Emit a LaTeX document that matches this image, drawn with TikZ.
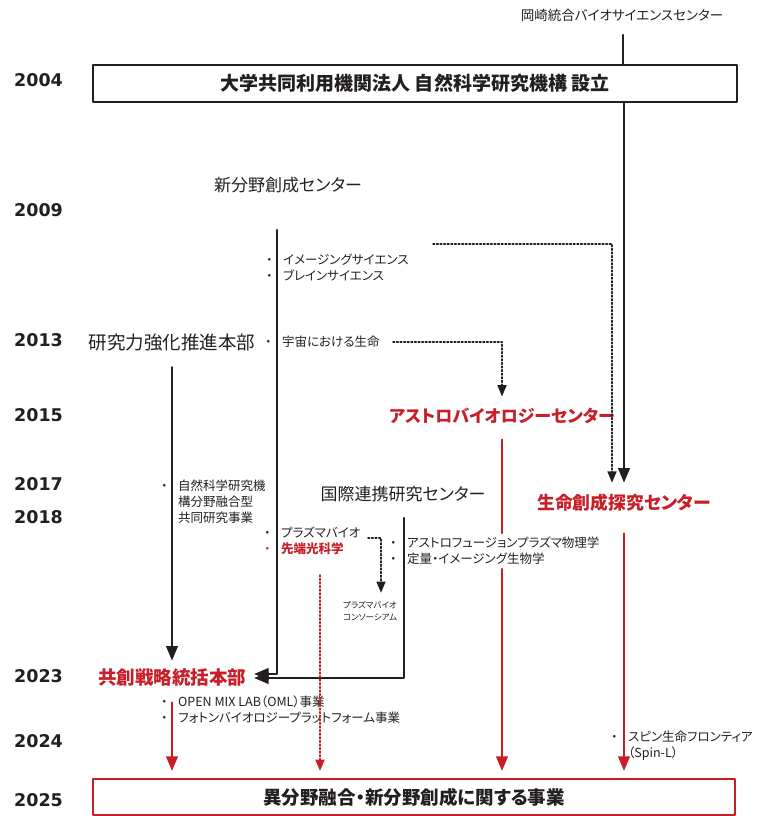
\documentclass[tikz,border=0pt]{standalone}
\usepackage{fontspec}
\newfontfamily\jpfont{Noto Sans CJK JP}[RawFeature={+palt}]
\newfontfamily\yearfont{DejaVu Sans}
\usetikzlibrary{arrows, calc, positioning}
\usepackage{xcolor}
\definecolor{ninsred}{RGB}{200,30,40}
\definecolor{ink}{RGB}{35,31,32}
\newcommand{\bul}{\makebox[17pt][l]{・}}
\newcommand{\nobul}{\hspace*{17pt}}

\begin{document}
\begin{tikzpicture}[line cap=round,line join=round,>=triangle 45,x=1pt,y=-1pt,
  yearlabel/.style={anchor=west, inner sep=0pt, text=ink, font=\yearfont\bfseries\fontsize{17.5}{18}\selectfont},
  unitlabel/.style={inner sep=2pt, text=ink, font=\jpfont\fontsize{17}{20}\selectfont},
  newunit/.style={inner sep=2pt, text=ninsred, font=\jpfont\bfseries\fontsize{17}{20}\selectfont},
  itemlist/.style={anchor=west, inner sep=0pt, align=left, text=ink, font=\jpfont\fontsize{12.5}{16}\selectfont},
  mainline/.style={line width=2.4pt, color=ink},
  redline/.style={line width=2.4pt, color=ninsred},
  dotline/.style={line width=1.6pt, dotted, color=ink},
  reddot/.style={line width=1.6pt, dotted, color=ninsred}]
\useasboundingbox (0,0) rectangle (756,816);

% Years
\foreach \yr/\ypos in {2004/80, 2009/210, 2013/340, 2015/415, 2017/484, 2018/517, 2023/676, 2024/741, 2025/800}
  \node [yearlabel] (y\yr) at (14,\ypos) {\yr};

% Frame boxes
\node [draw=ink, line width=2pt, minimum width=644pt, minimum height=37pt, inner sep=0pt, text=ink,
  font=\jpfont\bfseries\fontsize{19}{20}\selectfont] (nins) at (415,83.5) {大学共同利用機関法人 自然科学研究機構 設立};
\node [draw=ninsred, line width=2.4pt, minimum width=642pt, minimum height=36pt, inner sep=0pt, text=ink,
  font=\jpfont\bfseries\fontsize{18.5}{20}\selectfont] (goal) at (414,797) {異分野融合・新分野創成に関する事業};

% Units
\node [text=ink, font=\jpfont\fontsize{13.5}{14}\selectfont] (okazaki) at (622,15) {岡崎統合バイオサイエンスセンター};
\node [unitlabel] (shinbunya) at (288,185) {新分野創成センター};
\node [unitlabel, font=\jpfont\fontsize{18.5}{20}\selectfont] (kenkyu) at (172,343) {研究力強化推進本部};
\node [newunit] (astro) at (502,416) {アストロバイオロジーセンター};
\node [unitlabel] (kokusai) at (403,494) {国際連携研究センター};
\node [newunit, font=\jpfont\bfseries\fontsize{17.8}{20}\selectfont] (life) at (624,503) {生命創成探究センター};
\node [newunit, font=\jpfont\bfseries\fontsize{18.5}{20}\selectfont] (kyoso) at (172,677) {共創戦略統括本部};
\node [text=ink, align=center, font=\jpfont\fontsize{8.5}{12}\selectfont] (consort) at (370,611) {プラズマバイオ\\コンソーシアム};

% Items
\node [itemlist] (imaging) at (266,268) {\bul イメージングサイエンス\\\bul ブレインサイエンス};
\node [itemlist] (cosmos) at (265,342) {\bul 宇宙における生命};
\node [itemlist] (fusion) at (161,501.5) {\bul 自然科学研究機\\\nobul 構分野融合型\\\nobul 共同研究事業};
\node [itemlist] (plasma) at (264,540.5) {\bul プラズマバイオ\\{\color{ninsred}\bul\bfseries 先端光科学}};
\node [itemlist, inner ysep=4pt] (astrofusion) at (390,551) {\bul アストロフュージョンプラズマ物理学\\\bul 定量・イメージング生物学};
\node [itemlist] (oml) at (161,710) {\bul OPEN\ MIX\ LAB（OML）事業\\\bul フォトンバイオロジープラットフォーム事業};
\node [itemlist] (spin) at (611,746) {\bul スピン生命フロンティア\\\nobul （Spin-L）};

% Free ends
\coordinate (okaTop) at (623,35);
\coordinate (nfTop) at (277,230);
\coordinate (intlTop) at (404,518);
\coordinate (imgDot) at (433,244);
\coordinate (cosmosDot) at (393,342);
\coordinate (plasmaDot) at (368,538);
\coordinate (photonDot) at (320,575);

% Black lines
\draw [mainline] (okaTop) -- (okaTop |- nins.north);
\draw [mainline, ->, shorten >=9.5pt] (nins.south -| life) -- (life.north);
\draw [dotline, ->, shorten >=9.5pt] (imgDot) -| ([xshift=-12pt]life.north);
\draw [dotline, ->, shorten >=9.5pt] (cosmosDot) -| (astro.north);
\draw [mainline, ->, shorten <=13.5pt, shorten >=5.5pt] (kenkyu.south) -- (kyoso.north);
\draw [mainline, ->, shorten >=6pt] (nfTop) |- ([yshift=3pt]kyoso.east);
\draw [mainline, ->, shorten >=6pt] (intlTop) |- ([yshift=-1pt]kyoso.east);
\draw [dotline, ->, shorten >=5pt] (plasmaDot) -| ([xshift=11pt]consort.north);

% Red lines
\draw [redline, ->, shorten <=14.5pt, shorten >=7pt] (kyoso.south) -- (kyoso.south |- goal.north);
\draw [reddot, ->, shorten >=7pt] (photonDot) -- (photonDot |- goal.north);
\draw [redline, shorten <=13.5pt] (astro.south) -- (astro.south |- astrofusion.north);
\draw [redline, ->, shorten >=7pt] (astro.south |- astrofusion.south) -- (astro.south |- goal.north);
\draw [redline, ->, shorten <=19.5pt, shorten >=7pt] (life.south) -- (life.south |- goal.north);
\end{tikzpicture}
\end{document}
